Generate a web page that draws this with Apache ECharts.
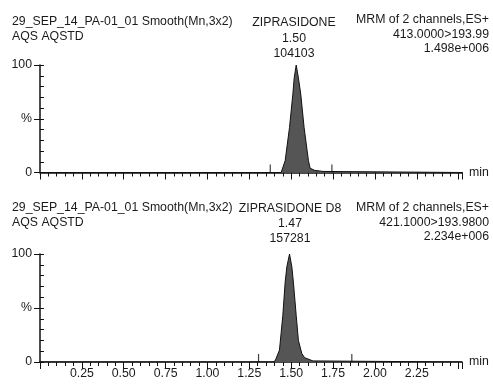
<!DOCTYPE html>
<html>
<head>
<meta charset="utf-8">
<script src="https://cdn.jsdelivr.net/npm/echarts@6/dist/echarts.min.js"></script>
<style>
  html, body { margin: 0; padding: 0; background: #fff; }
  #chart { width: 493px; height: 385px; }
</style>
</head>
<body>
<div id="chart"></div>
<script>
// 保留时间(min) / 相对强度(%) —— 上图 ZIPRASIDONE
const rtTop = [0, 1.44, 1.45, 1.464, 1.49, 1.51, 1.518, 1.53, 1.543, 1.557, 1.577, 1.603, 1.613, 1.64, 1.69, 1.70, 2.52];
const intTop = [0, 0, 1, 11, 42, 73, 88, 100, 88, 73, 42, 11, 4, 2, 1, 0, 0];
// 下图 ZIPRASIDONE D8
const rtBottom = [0, 1.39, 1.404, 1.43, 1.45, 1.464, 1.474, 1.49, 1.504, 1.513, 1.53, 1.543, 1.563, 1.58, 1.613, 1.63, 1.64, 2.52];
const intBottom = [0, 0, 1, 11, 43, 74, 88, 100, 88, 74, 43, 20, 8, 4, 2, 1, 0, 0];
// 积分起止标记
const marksTop = [1.375, 1.743];
const marksBottom = [1.305, 1.862];
// 文字信息
const headerLines = ["29_SEP_14_PA-01_01 Smooth(Mn,3x2)", "AQS AQSTD"];
const compoundTop = ["ZIPRASIDONE", "1.50", "104103"];
const compoundBottom = ["ZIPRASIDONE D8", "1.47", "157281"];
const infoTop = ["MRM of 2 channels,ES+", "413.0000>193.99", "1.498e+006"];
const infoBottom = ["MRM of 2 channels,ES+", "421.1000>193.9800", "2.234e+006"];

const FONT = "Liberation Sans";
const TXT = "#1a1a1a";
const LINE = "#111";

const zip = (xs, ys) => xs.map((x, i) => [x, ys[i]]);

const chart = echarts.init(document.getElementById("chart"));

// 主x轴: 0.05 小刻度 + 0.25 标签
function xAxesFor(gridIndex, showLabel) {
  return [
    {
      type: "value",
      gridIndex: gridIndex,
      position: "bottom",
      min: 0,
      max: 2.52,
      interval: 0.05,
      name: "min",
      nameLocation: "end",
      nameGap: 7,
      nameTextStyle: { color: TXT, fontSize: 12.3, fontFamily: FONT, verticalAlign: "middle" },
      axisLine: { onZero: false, lineStyle: { color: LINE, width: 1.5 } },
      axisTick: { length: 4, lineStyle: { color: LINE } },
      splitLine: { show: false },
      axisLabel: {
        show: showLabel,
        color: TXT,
        fontSize: 12.3,
        fontFamily: FONT,
        margin: 6,
        interval: 0,
        showMinLabel: false,
        showMaxLabel: false,
        formatter: (v) => {
          const q = Math.round(v * 100);
          return q > 0 && q < 240 && q % 25 === 0 ? (q / 100).toFixed(2) : "";
        }
      }
    },
    {
      type: "value",
      gridIndex: gridIndex,
      position: "bottom",
      min: 0,
      max: 2.52,
      interval: 0.25,
      axisLine: { show: false, onZero: false },
      axisTick: { length: 7, lineStyle: { color: LINE } },
      splitLine: { show: false },
      axisLabel: { show: false }
    }
  ];
}

function yAxesFor(gridIndex) {
  return [
    {
      type: "value",
      gridIndex: gridIndex,
      position: "left",
      min: 0,
      max: 100,
      interval: 10,
      axisLine: { show: true, onZero: false, lineStyle: { color: LINE, width: 1.5 } },
      axisTick: { inside: true, length: 4, lineStyle: { color: LINE } },
      splitLine: { show: false },
      axisLabel: {
        color: TXT,
        fontSize: 12.3,
        fontFamily: FONT,
        margin: 8,
        formatter: (v) => (v === 100 ? "100" : v === 50 ? "%" : v === 0 ? "0" : "")
      }
    },
    {
      type: "value",
      gridIndex: gridIndex,
      position: "left",
      min: 0,
      max: 100,
      interval: 50,
      axisLine: { show: false, onZero: false },
      axisTick: { show: true, length: 6, lineStyle: { color: LINE } },
      splitLine: { show: false },
      axisLabel: { show: false }
    }
  ];
}

function peakSeries(idx, data) {
  return {
    type: "line",
    xAxisIndex: idx * 2,
    yAxisIndex: idx * 2,
    data: data,
    symbol: "none",
    smooth: false,
    lineStyle: { color: LINE, width: 1 },
    areaStyle: { color: "#555", opacity: 1 },
    z: 3
  };
}

function markSeries(idx, xs) {
  return {
    type: "scatter",
    xAxisIndex: idx * 2,
    yAxisIndex: idx * 2,
    data: xs.map((x) => [x, 0]),
    symbol: "rect",
    symbolSize: [1.2, 8],
    symbolOffset: [0, -4],
    itemStyle: { color: LINE },
    z: 4
  };
}

function textBlock(lines, x, y0, align, gap) {
  return lines.map((t, i) => ({
    type: "text",
    x: x,
    y: y0 + i * gap,
    style: {
      text: t,
      fill: TXT,
      fontSize: 12.3,
      fontFamily: FONT,
      align: align,
      verticalAlign: "middle"
    }
  }));
}

const option = {
  animation: false,
  backgroundColor: "#fff",
  grid: [
    { left: 40, right: 31, top: 65, bottom: 212.5 },
    { left: 40, right: 31, top: 254, bottom: 23 }
  ],
  xAxis: [...xAxesFor(0, false), ...xAxesFor(1, true)],
  yAxis: [...yAxesFor(0), ...yAxesFor(1)],
  series: [
    peakSeries(0, zip(rtTop, intTop)),
    peakSeries(1, zip(rtBottom, intBottom)),
    markSeries(0, marksTop),
    markSeries(1, marksBottom)
  ],
  graphic: [
    ...textBlock(headerLines, 12, 22, "left", 14.5),
    ...textBlock(compoundTop, 294, 23, "center", 15.5),
    ...textBlock(infoTop, 489, 20, "right", 14.5),
    ...textBlock(headerLines, 12, 208, "left", 14.5),
    ...textBlock(compoundBottom, 290, 209, "center", 15),
    ...textBlock(infoBottom, 489, 208, "right", 14.5)
  ]
};

chart.setOption(option);
</script>
</body>
</html>
